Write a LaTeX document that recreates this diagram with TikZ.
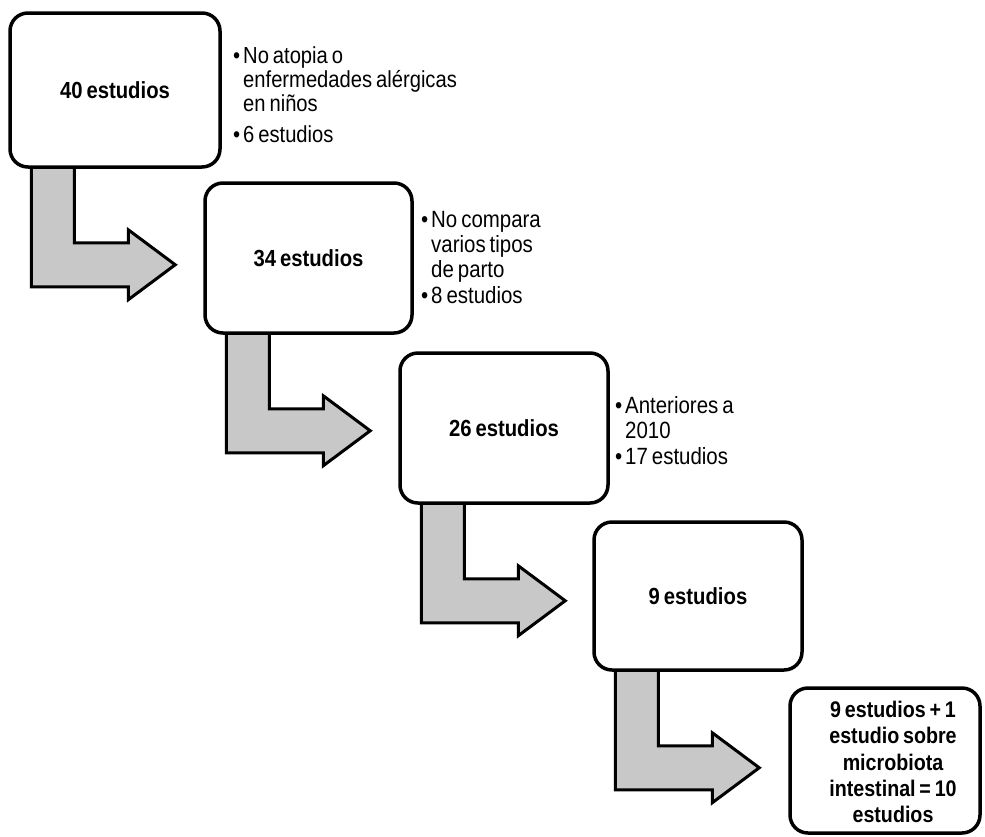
\documentclass[tikz,border=0pt]{standalone}
\usepackage{fontspec}
\setmainfont{Liberation Sans}[FakeStretch=0.87, WordSpace=0.7]
\usetikzlibrary{calc}
\pgfdeclarelayer{back}
\pgfdeclarelayer{arrows}
\pgfsetlayers{back,arrows,main}
\definecolor{arrfill}{RGB}{200,200,200}
\newcommand{\bulletmark}{\llap{\textbullet\hspace{3pt}}}
\begin{document}
\begin{tikzpicture}[x=1pt,y=-1pt,
  box/.style={draw=black, line width=3.5pt, rounded corners=18pt, fill=white, inner sep=0pt},
  lbl/.style={inner sep=0pt, align=center},
  bul/.style={inner sep=0pt, align=left, anchor=north west},
  bentarrow/.style={draw=black, line width=3pt, fill=arrfill, line join=miter}]
\useasboundingbox (0,0) rectangle (985,836);
\begin{pgfonlayer}{back}
\fill[white] (0,0) rectangle (985,836);
\end{pgfonlayer}

% boxes
\node[box, minimum width=210pt, minimum height=154pt] (b1) at (115,90) {};
\node[box, minimum width=207pt, minimum height=150pt] (b2) at (308.5,258) {};
\node[box, minimum width=208pt, minimum height=150pt] (b3) at (504,428) {};
\node[box, minimum width=208pt, minimum height=148pt] (b4) at (698,596) {};
\node[box, minimum width=190pt, minimum height=145pt] (b5) at (885,760.5) {};

% labels inside boxes
\node[lbl, font={\fontsize{23.3}{27}\selectfont\bfseries}] (l1) at (b1.center) {40 estudios};
\node[lbl, font={\fontsize{23.3}{27}\selectfont\bfseries}] (l2) at (b2.center) {34 estudios};
\node[lbl, font={\fontsize{23.3}{27}\selectfont\bfseries}] (l3) at (b3.center) {26 estudios};
\node[lbl, font={\fontsize{23.3}{27}\selectfont\bfseries}] (l4) at (b4.center) {9 estudios};
\node[lbl, font={\fontsize{22.6}{26.3}\selectfont\bfseries}] (l5) at (893,762) {9 estudios + 1\\estudio sobre\\microbiota\\intestinal = 10\\estudios};

% bullet texts
\node[bul, font={\fontsize{23.2}{23.8}\selectfont}] (t1) at (243,46.4)
  {\bulletmark No atopia o\\enfermedades alérgicas\\en niños\\[8pt]\bulletmark 6 estudios};
\node[bul, font={\fontsize{23.5}{25.3}\selectfont}] (t2) at (431,210.9)
  {\bulletmark No compara\\varios tipos\\de parto\\\bulletmark 8 estudios};
\node[bul, font={\fontsize{23.5}{25.5}\selectfont}] (t3) at (625,396.2)
  {\bulletmark Anteriores a\\2010\\\bulletmark 17 estudios};

% bent arrows from each box to the next
\begin{pgfonlayer}{arrows}
\foreach \k in {1,2,3,4} {
  \draw[bentarrow] ($(b\k.south west)+(23,-5)$) -- ++(43,0) -- ++(0,79) -- ++(54,0)
    -- ++(0,-13) -- ++(47,35) -- ++(-47,35) -- ++(0,-13) -- ++(-97,0) -- cycle;
}
\end{pgfonlayer}
\end{tikzpicture}
\end{document}
